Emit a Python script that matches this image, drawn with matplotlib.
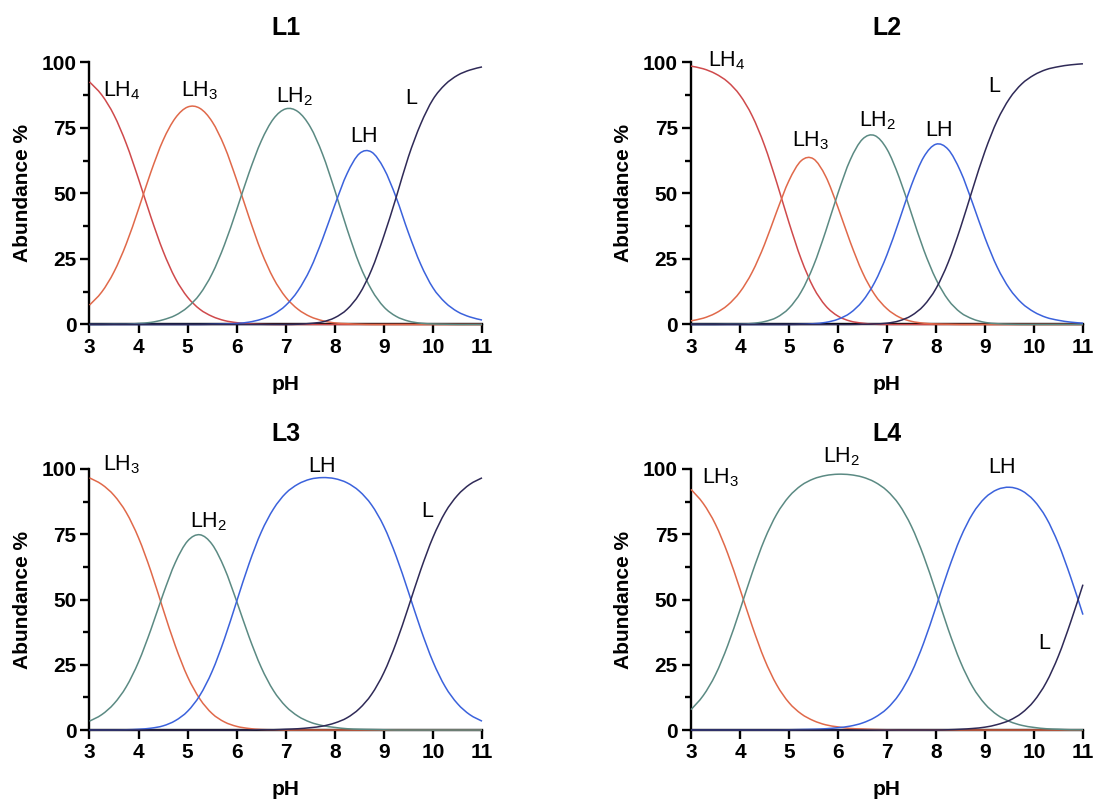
import numpy as np
import matplotlib
matplotlib.use("Agg")
import matplotlib.pyplot as plt
from matplotlib.ticker import MultipleLocator
from matplotlib.path import Path
from matplotlib.patches import PathPatch

plt.rcParams['font.family'] = ['Liberation Sans', 'DejaVu Sans']
plt.rcParams['mathtext.fontset'] = 'custom'
plt.rcParams['mathtext.rm'] = 'Liberation Sans'
plt.rcParams['mathtext.it'] = 'Liberation Sans:italic'
plt.rcParams['mathtext.bf'] = 'Liberation Sans:bold'

# pH grid (step 0.25)
ph = [3.0, 3.25, 3.5, 3.75, 4.0, 4.25, 4.5, 4.75, 5.0, 5.25, 5.5, 5.75, 6.0,
      6.25, 6.5, 6.75, 7.0, 7.25, 7.5, 7.75, 8.0, 8.25, 8.5, 8.75, 9.0, 9.25,
      9.5, 9.75, 10.0, 10.25, 10.5, 10.75, 11.0]

# ---------------- L1 ----------------
l1_LH4 = [92.6, 87.6, 79.9, 69.0, 55.5, 41.1, 28.0, 17.6, 10.4, 5.8, 3.1, 1.5, 0.7, 0.3, 0.1] + [0.0] * 18
l1_LH3 = [7.4, 12.4, 20.1, 30.8, 44.1, 58.1, 70.3, 78.8, 83.0, 82.5, 77.4, 68.0, 55.1, 41.0, 27.9,
          17.6, 10.4, 5.8, 3.0, 1.45, 0.6, 0.3, 0.1] + [0.0] * 10
l1_LH2 = [0.0, 0.0, 0.1, 0.1, 0.4, 0.8, 1.8, 3.5, 6.6, 11.6, 19.4, 30.4, 43.8, 57.8, 70.0, 78.5,
          82.3, 81.2, 75.4, 65.0, 51.2, 36.4, 23.1, 13.2, 6.7, 3.1, 1.3, 0.5, 0.2, 0.1, 0.0, 0.0, 0.0]
l1_LH = [0.0] * 9 + [0.0, 0.1, 0.2, 0.4, 0.9, 2.0, 3.9, 7.3, 12.9, 21.2, 32.6, 45.6, 57.6, 65.2,
                     65.8, 59.5, 48.5, 35.0, 23.0, 14.0, 8.4, 4.9, 2.9, 1.7]
l1_L = [0.0] * 17 + [0.1, 0.4, 1.0, 2.6, 5.8, 11.6, 20.9, 33.8, 48.5, 64.0, 76.5, 85.9, 91.6,
                     95.1, 97.1, 98.3]

# ---------------- L2 ----------------
l2_LH4 = [98.6, 97.6, 95.7, 92.6, 87.5, 79.6, 68.4, 54.2, 38.9, 24.9, 14.1, 7.1, 3.2, 1.3, 0.5, 0.1] + [0.0] * 17
l2_LH3 = [1.4, 2.4, 4.3, 7.4, 12.4, 20.0, 30.5, 43.1, 54.9, 62.5, 63.2, 56.5, 44.7, 31.5, 19.9,
          11.4, 6.0, 2.8, 1.2, 0.5, 0.2, 0.1] + [0.0] * 11
l2_LH2 = [0.0, 0.0, 0.0, 0.1, 0.1, 0.4, 1.1, 2.7, 6.2, 12.5, 22.4, 35.6, 50.1, 62.8, 70.7, 72.1,
          66.9, 56.1, 42.3, 28.5, 17.3, 9.4, 4.6, 2.1, 0.8, 0.3, 0.1] + [0.0] * 6
l2_LH = [0.0] * 8 + [0.0, 0.1, 0.3, 0.8, 2.0, 4.4, 8.9, 16.1, 26.6, 39.7, 53.2, 63.9, 68.8, 66.8,
                     58.5, 46.2, 33.1, 21.9, 13.7, 8.2, 4.8, 2.7, 1.6, 0.9, 0.5]
l2_L = [0.0] * 13 + [0.0, 0.1, 0.2, 0.5, 1.4, 3.4, 7.2, 13.7, 23.7, 36.9, 51.8, 66.1, 77.8, 86.2,
                     91.8, 95.2, 97.3, 98.4, 99.1, 99.5]

# ---------------- L3 ----------------
l3_LH3 = [96.6, 94.1, 89.9, 83.3, 73.6, 60.9, 46.3, 32.2, 20.4, 11.9, 6.3, 3.1, 1.4, 0.6, 0.2, 0.1] + [0.0] * 17
l3_LH2 = [3.4, 5.9, 10.1, 16.6, 26.1, 38.4, 52.0, 64.2, 72.4, 74.8, 71.1, 62.0, 49.3, 35.8, 24.0,
          15.1, 9.1, 5.3, 3.0, 1.7, 1.0, 0.5, 0.3, 0.2, 0.1] + [0.0] * 8
l3_LH = [0.0, 0.0, 0.0, 0.1, 0.3, 0.7, 1.6, 3.6, 7.2, 13.3, 22.5, 34.9, 49.3, 63.6, 75.8, 84.7,
         90.7, 94.2, 96.1, 96.7, 96.3, 94.7, 91.5, 86.2, 78.0, 66.6, 52.9, 38.7, 26.2, 16.6, 10.1,
         5.9, 3.4]
l3_L = [0.0] * 14 + [0.1, 0.1, 0.3, 0.5, 0.9, 1.5, 2.7, 4.7, 8.2, 13.7, 22.0, 33.4, 47.1, 61.3,
                     73.8, 83.4, 89.9, 94.1, 96.6]

# ---------------- L4 ----------------
l4_LH3 = [92.2, 86.8, 78.8, 67.6, 54.0, 39.8, 27.1, 17.3, 10.5, 6.2, 3.6, 2.0, 1.2, 0.6, 0.4, 0.2, 0.1] + [0.0] * 16
l4_LH2 = [7.8, 13.2, 21.2, 32.4, 46.0, 60.2, 72.9, 82.7, 89.4, 93.7, 96.2, 97.5, 98.0, 97.8, 96.9,
          95.0, 91.7, 86.3, 78.0, 66.6, 52.9, 38.6, 26.1, 16.5, 10.0, 5.8, 3.3, 1.8, 1.0, 0.5, 0.3,
          0.1, 0.1]
l4_LH = [0.0] * 8 + [0.1, 0.2, 0.3, 0.5, 0.9, 1.5, 2.7, 4.8, 8.2, 13.7, 22.0, 33.4, 47.1, 61.2,
                     73.6, 82.9, 88.9, 92.1, 93.0, 91.7, 87.9, 81.3, 71.3, 58.5, 44.2]
l4_L = [0.0] * 21 + [0.1, 0.3, 0.6, 1.1, 2.1, 3.7, 6.5, 11.1, 18.2, 28.4, 41.4, 55.7]

# colours per species
C_LH4 = '#cf4a4c'
C_LH3 = '#e0694a'
C_LH2 = '#5b8a83'
C_LH = '#3b62dc'
C_L = '#2f2a57'

panels = [
    dict(title='L1', rect=[0.0818, 0.5949, 0.3588, 0.3271],
         series=[(l1_LH4, C_LH4), (l1_LH3, C_LH3), (l1_LH2, C_LH2), (l1_LH, C_LH), (l1_L, C_L)],
         labels=[('LH$_4$', 3.27, 87.2), ('LH$_3$', 4.87, 87.2), ('LH$_2$', 6.80, 84.9),
                 ('LH', 8.31, 69.5), ('L', 9.43, 84.3)]),
    dict(title='L2', rect=[0.6316, 0.5949, 0.3583, 0.3271],
         series=[(l2_LH4, C_LH4), (l2_LH3, C_LH3), (l2_LH2, C_LH2), (l2_LH, C_LH), (l2_L, C_L)],
         labels=[('LH$_4$', 3.35, 98.6), ('LH$_3$', 5.06, 67.9), ('LH$_2$', 6.42, 75.6),
                 ('LH', 7.78, 71.8), ('L', 9.07, 88.6)]),
    dict(title='L3', rect=[0.0818, 0.0886, 0.3588, 0.3259],
         series=[(l3_LH3, C_LH3), (l3_LH2, C_LH2), (l3_LH, C_LH), (l3_L, C_L)],
         labels=[('LH$_3$', 3.28, 99.6), ('LH$_2$', 5.04, 77.7), ('LH', 7.45, 99.0),
                 ('L', 9.76, 81.7)]),
    dict(title='L4', rect=[0.6316, 0.0886, 0.3583, 0.3259],
         series=[(l4_LH3, C_LH3), (l4_LH2, C_LH2), (l4_LH, C_LH), (l4_L, C_L)],
         labels=[('LH$_3$', 3.22, 94.5), ('LH$_2$', 5.69, 102.6), ('LH', 9.07, 98.3),
                 ('L', 10.09, 30.9)]),
]


def smooth_line(ax, xs, ys, color):
    """Draw a smooth curve passing through every data point (Catmull-Rom
    segments rendered as cubic Bezier curves in data coordinates)."""
    xs = np.asarray(xs, float)
    ys = np.asarray(ys, float)
    n = len(xs)
    verts = [(xs[0], ys[0])]
    codes = [Path.MOVETO]
    for i in range(n - 1):
        i0 = max(i - 1, 0)
        i3 = min(i + 2, n - 1)
        c1 = (xs[i] + (xs[i + 1] - xs[i0]) / 6.0, ys[i] + (ys[i + 1] - ys[i0]) / 6.0)
        c2 = (xs[i + 1] - (xs[i3] - xs[i]) / 6.0, ys[i + 1] - (ys[i3] - ys[i]) / 6.0)
        verts += [c1, c2, (xs[i + 1], ys[i + 1])]
        codes += [Path.CURVE4, Path.CURVE4, Path.CURVE4]
    patch = PathPatch(Path(verts, codes), facecolor='none', edgecolor=color,
                      lw=1.1, clip_on=False, zorder=3, transform=ax.transData)
    ax.add_patch(patch)


fig = plt.figure(figsize=(10.94, 8.01), dpi=100)

for p in panels:
    ax = fig.add_axes(p['rect'])
    for vals, col in p['series']:
        smooth_line(ax, ph, vals, col)
    ax.set_xlim(3, 11)
    ax.set_ylim(0, 100)
    ax.xaxis.set_major_locator(MultipleLocator(1))
    ax.yaxis.set_major_locator(MultipleLocator(25))
    ax.yaxis.set_minor_locator(MultipleLocator(12.5))
    for s in ['top', 'right']:
        ax.spines[s].set_visible(False)
    for s in ['left', 'bottom']:
        ax.spines[s].set_linewidth(1.7)
    ax.tick_params(axis='both', which='major', length=6.5, width=1.7, labelsize=15, pad=3)
    ax.tick_params(axis='y', which='minor', length=4.5, width=1.7)
    for lab in ax.get_xticklabels() + ax.get_yticklabels():
        lab.set_fontweight('bold')
    ax.set_xlabel('pH', fontsize=15, fontweight='bold', labelpad=13)
    ax.set_ylabel('Abundance %', fontsize=15, fontweight='bold', labelpad=7)
    ax.set_title(p['title'], fontsize=18, fontweight='bold', pad=20)
    for txt, x, y in p['labels']:
        ax.text(x, y, txt, fontsize=15.5, ha='left', va='baseline', color='black', clip_on=False)

fig.savefig('out.png', dpi=100)
